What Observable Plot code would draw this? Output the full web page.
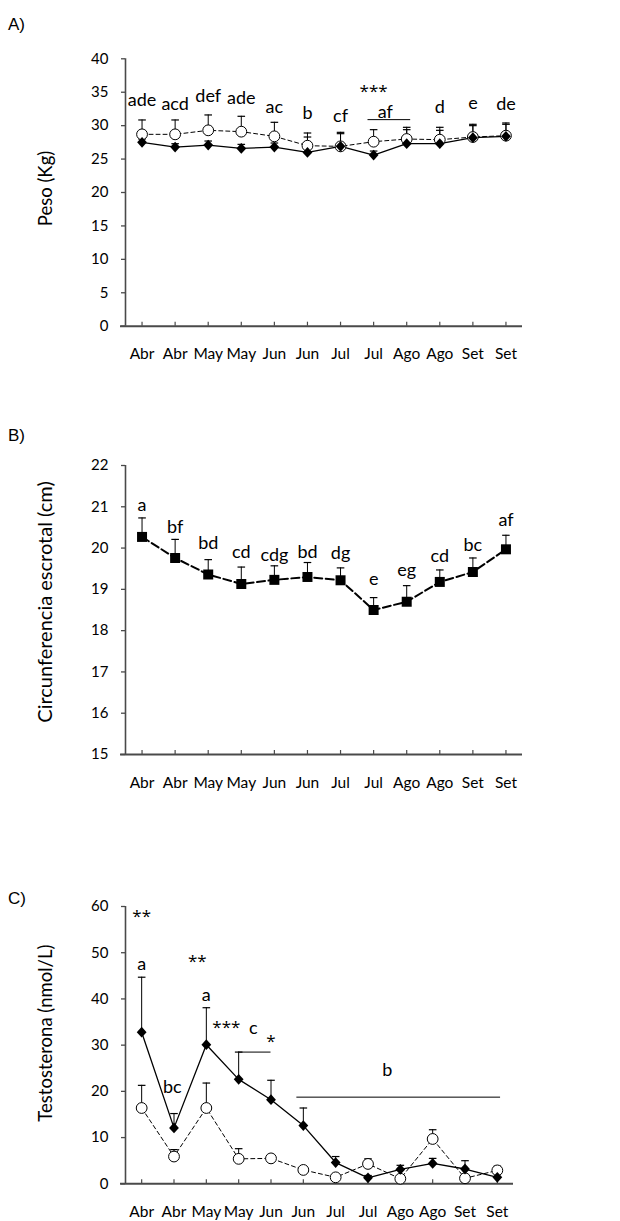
<!DOCTYPE html>
<html><head><meta charset="utf-8">
<script src="https://cdn.jsdelivr.net/npm/d3@7"></script>
<script src="https://cdn.jsdelivr.net/npm/@observablehq/plot@0.6"></script>
<style>
body{margin:0;background:#fff;}
#wrap{position:relative;width:620px;height:1221px;overflow:hidden;font-family:Lato,sans-serif;}
.panel{position:absolute;left:0;}
.tag{position:absolute;left:8px;font-family:"Liberation Sans",Arial,sans-serif;font-size:17px;line-height:17px;color:#000;}
</style></head><body>
<div id="wrap">
  <div class="tag" style="top:16px">A)</div>
  <div class="tag" style="top:427px">B)</div>
  <div class="tag" style="top:890px">C)</div>
  <div class="panel" id="pA" style="top:0px"></div>
  <div class="panel" id="pB" style="top:400px"></div>
  <div class="panel" id="pC" style="top:860px"></div>
</div>
<script>
// ---------- shared categories ----------
const months = ["Abr","Abr","May","May","Jun","Jun","Jul","Jul","Ago","Ago","Set","Set"];

// ---------- A) Peso (Kg) ----------
const pesoOpen       = [28.7,28.7,29.3,29.1,28.4,27.0,26.9,27.6,28.0,27.9,28.3,28.5];
const pesoOpenErr    = [30.85,30.85,31.6,31.4,30.5,28.9,29.0,29.4,29.75,29.75,30.2,30.4];
const pesoFilled     = [27.5,26.8,27.1,26.6,26.8,26.0,26.9,25.6,27.3,27.3,28.2,28.4];
const pesoFilledErr  = [28.0,27.3,27.7,27.2,27.4,28.3,28.8,26.2,29.4,29.3,30.0,30.2];
const pesoLetters    = ["ade","acd","def","ade","ac","b","cf","af","d","e","de"];
const pesoLetterX    = [0,1,2,3,4,5,6,7.35,9,10,11];
const pesoLetterY    = [33.8,33.2,34.4,34.1,32.7,31.9,31.4,32.0,32.7,33.3,33.2];
const pesoStars      = ["***"];
const pesoStarX      = [7.0];
const pesoStarY      = [35.5];
const pesoBracket    = [{x1: 6.83, x2: 8.12, y: 30.9}];
const pesoTicks      = [0,5,10,15,20,25,30,35,40];

// ---------- B) Circunferencia escrotal (cm) ----------
const circ           = [20.27,19.76,19.36,19.13,19.23,19.3,19.22,18.5,18.7,19.18,19.42,19.97];
const circErr        = [20.73,20.21,19.72,19.54,19.57,19.65,19.52,18.8,19.09,19.47,19.76,20.31];
const circLetters    = ["a","bf","bd","cd","cdg","bd","dg","e","eg","cd","bc","af"];
const circLetterY    = [21.03,20.5,20.12,19.9,19.82,19.9,19.87,19.24,19.46,19.8,20.07,20.68];
const circTicks      = [15,16,17,18,19,20,21,22];

// ---------- C) Testosterona (nmol/L) ----------
const testoFilled    = [32.8,12.1,30.1,22.6,18.2,12.6,4.6,1.3,3.1,4.4,3.2,1.4];
const testoFilledErr = [44.7,15.2,38.1,28.5,22.4,16.4,5.9,1.8,4.0,5.5,5.0,2.2];
const testoOpen      = [16.4,5.9,16.4,5.4,5.5,3.0,1.4,4.3,1.1,9.7,1.2,2.9];
const testoOpenErr   = [21.3,7.4,21.8,7.6,6.2,3.6,1.9,5.4,1.5,11.7,1.6,3.8];
const testoLetters   = ["a","a","c","bc","b"];
const testoLetterX   = [0,2,3.45,0.95,7.6];
const testoLetterY   = [47.5,40.8,33.6,20.8,24.5];
const testoStars     = ["**","**","***","*"];
const testoStarX     = [0,1.72,2.62,4.0];
const testoStarY     = [58.5,48.8,34.5,31.5];
const testoBrackets  = [{x1: 3, x2: 4, y: 28.5}, {x1: 4.8, x2: 11.1, y: 18.75}];
const testoTicks     = [0,10,20,30,40,50,60];

// ---------- helpers ----------
const idx = d3.range(months.length);
const axisColor = "#4a4a4a";
const capSymbol = {draw(ctx){ ctx.moveTo(-3.8,0); ctx.lineTo(3.8,0); }};
const diamondSymbol = {draw(ctx){ ctx.moveTo(0,-5.4); ctx.lineTo(4.9,0); ctx.lineTo(0,5.4); ctx.lineTo(-4.9,0); ctx.closePath(); }};
const squareSymbol = {draw(ctx){ ctx.rect(-5,-5,10,10); }};

function basePlot({height, mt, mb, ml, mr, yDomain, yTicks, title, titleDx, titleDy, titleSize, marks}) {
  const xDomain = [-0.5, months.length - 0.5];
  const frameH = height - mt - mb;
  return Plot.plot({
    width: 620, height, marginTop: mt, marginBottom: mb, marginLeft: ml, marginRight: mr,
    x: {type: "linear", domain: xDomain},
    y: {domain: yDomain},
    style: {fontFamily: "Lato, sans-serif", fontSize: "15px", color: "#000", background: "transparent", overflow: "visible"},
    marks: [
      Plot.axisY({ticks: yTicks, tickFormat: "d", tickSize: 4, tickPadding: 13, stroke: axisColor, strokeWidth: 1.3, label: null, fontSize: 15, fill: "#000"}),
      Plot.axisX({ticks: idx, tickFormat: i => months[i], tickSize: 0, tickPadding: 22, label: null, fontSize: 15.5, fill: "#000"}),
      Plot.tickX(idx, {x: d => d, insetTop: frameH - 4, stroke: axisColor, strokeWidth: 1.2}),
      Plot.ruleX([xDomain[0]], {stroke: axisColor, strokeWidth: 1.6}),
      Plot.ruleY([yDomain[0]], {stroke: axisColor, strokeWidth: 2, insetLeft: -5}),
      Plot.text([title], {frameAnchor: "left", textAnchor: "middle", dx: titleDx, dy: titleDy, rotate: -90, fontSize: titleSize, fill: "#000"}),
      ...marks
    ]
  });
}

// ---------- Panel A ----------
const dataA = idx.map(i => ({i, open: pesoOpen[i], openErr: pesoOpenErr[i], filled: pesoFilled[i], filledErr: pesoFilledErr[i]}));
const lettersA = pesoLetters.map((t, k) => ({t, x: pesoLetterX[k], y: pesoLetterY[k]}));
const starsA = pesoStars.map((t, k) => ({t, x: pesoStarX[k], y: pesoStarY[k]}));
const starStyle = {fontSize: 17, fontFamily: "Open Sans, sans-serif", dy: 3, fill: "#000"};
const plotA = basePlot({
  height: 380, mt: 58.3, mb: 54.3, ml: 125, mr: 98,
  yDomain: [0, 40], yTicks: pesoTicks, title: "Peso (Kg)", titleDx: -79, titleDy: -4, titleSize: 18.5,
  marks: [
    Plot.ruleX(dataA, {x: "i", y1: "open", y2: "openErr", stroke: "#000", strokeWidth: 1}),
    Plot.dot(dataA, {x: "i", y: "openErr", symbol: capSymbol, stroke: "#000", strokeWidth: 1.2, fill: "none"}),
    Plot.ruleX(dataA, {x: "i", y1: "filled", y2: "filledErr", stroke: "#000", strokeWidth: 1}),
    Plot.dot(dataA, {x: "i", y: "filledErr", symbol: capSymbol, stroke: "#000", strokeWidth: 1.2, fill: "none"}),
    Plot.line(dataA, {x: "i", y: "open", stroke: "#000", strokeWidth: 1, strokeDasharray: "4,3"}),
    Plot.line(dataA, {x: "i", y: "filled", stroke: "#000", strokeWidth: 1.3}),
    Plot.dot(dataA, {x: "i", y: "open", r: 5.4, fill: "white", stroke: "#000", strokeWidth: 1}),
    Plot.dot(dataA, {x: "i", y: "filled", symbol: diamondSymbol, fill: "#000", stroke: "none"}),
    Plot.ruleY(pesoBracket, {x1: "x1", x2: "x2", y: "y", stroke: "#000", strokeWidth: 1}),
    Plot.text(lettersA, {x: "x", y: "y", text: "t", fontSize: 18, fill: "#000"}),
    Plot.text(starsA, {x: "x", y: "y", text: "t", ...starStyle})
  ]
});
document.getElementById("pA").append(plotA);

// ---------- Panel B ----------
const dataB = idx.map(i => ({i, v: circ[i], err: circErr[i]}));
const lettersB = circLetters.map((t, k) => ({t, x: k, y: circLetterY[k]}));
const plotB = basePlot({
  height: 400, mt: 65, mb: 46, ml: 125, mr: 98,
  yDomain: [15, 22], yTicks: circTicks, title: "Circunferencia escrotal (cm)", titleDx: -80, titleDy: -8, titleSize: 20,
  marks: [
    Plot.ruleX(dataB, {x: "i", y1: "v", y2: "err", stroke: "#000", strokeWidth: 1}),
    Plot.dot(dataB, {x: "i", y: "err", symbol: capSymbol, stroke: "#000", strokeWidth: 1.2, fill: "none"}),
    Plot.line(dataB, {x: "i", y: "v", stroke: "#000", strokeWidth: 2, strokeDasharray: "8,3.5"}),
    Plot.dot(dataB, {x: "i", y: "v", symbol: squareSymbol, fill: "#000", stroke: "none"}),
    Plot.text(lettersB, {x: "x", y: "y", text: "t", fontSize: 18, fill: "#000"})
  ]
});
document.getElementById("pB").append(plotB);

// ---------- Panel C ----------
const dataC = idx.map(i => ({i, open: testoOpen[i], openErr: testoOpenErr[i], filled: testoFilled[i], filledErr: testoFilledErr[i]}));
const lettersC = testoLetters.map((t, k) => ({t, x: testoLetterX[k], y: testoLetterY[k]}));
const starsC = testoStars.map((t, k) => ({t, x: testoStarX[k], y: testoStarY[k]}));
const plotC = basePlot({
  height: 361, mt: 46, mb: 37.7, ml: 125, mr: 107,
  yDomain: [0, 60], yTicks: testoTicks, title: "Testosterona (nmol/L)", titleDx: -79, titleDy: -12, titleSize: 18.5,
  marks: [
    Plot.ruleX(dataC, {x: "i", y1: "open", y2: "openErr", stroke: "#000", strokeWidth: 1}),
    Plot.dot(dataC, {x: "i", y: "openErr", symbol: capSymbol, stroke: "#000", strokeWidth: 1.2, fill: "none"}),
    Plot.ruleX(dataC, {x: "i", y1: "filled", y2: "filledErr", stroke: "#000", strokeWidth: 1}),
    Plot.dot(dataC, {x: "i", y: "filledErr", symbol: capSymbol, stroke: "#000", strokeWidth: 1.2, fill: "none"}),
    Plot.line(dataC, {x: "i", y: "open", stroke: "#000", strokeWidth: 1, strokeDasharray: "4,3"}),
    Plot.line(dataC, {x: "i", y: "filled", stroke: "#000", strokeWidth: 1.3}),
    Plot.dot(dataC, {x: "i", y: "open", r: 5.4, fill: "white", stroke: "#000", strokeWidth: 1}),
    Plot.dot(dataC, {x: "i", y: "filled", symbol: diamondSymbol, fill: "#000", stroke: "none"}),
    Plot.ruleY(testoBrackets, {x1: "x1", x2: "x2", y: "y", stroke: "#000", strokeWidth: 1}),
    Plot.text(lettersC, {x: "x", y: "y", text: "t", fontSize: 18, fill: "#000"}),
    Plot.text(starsC, {x: "x", y: "y", text: "t", ...starStyle})
  ]
});
document.getElementById("pC").append(plotC);
</script>
</body></html>
